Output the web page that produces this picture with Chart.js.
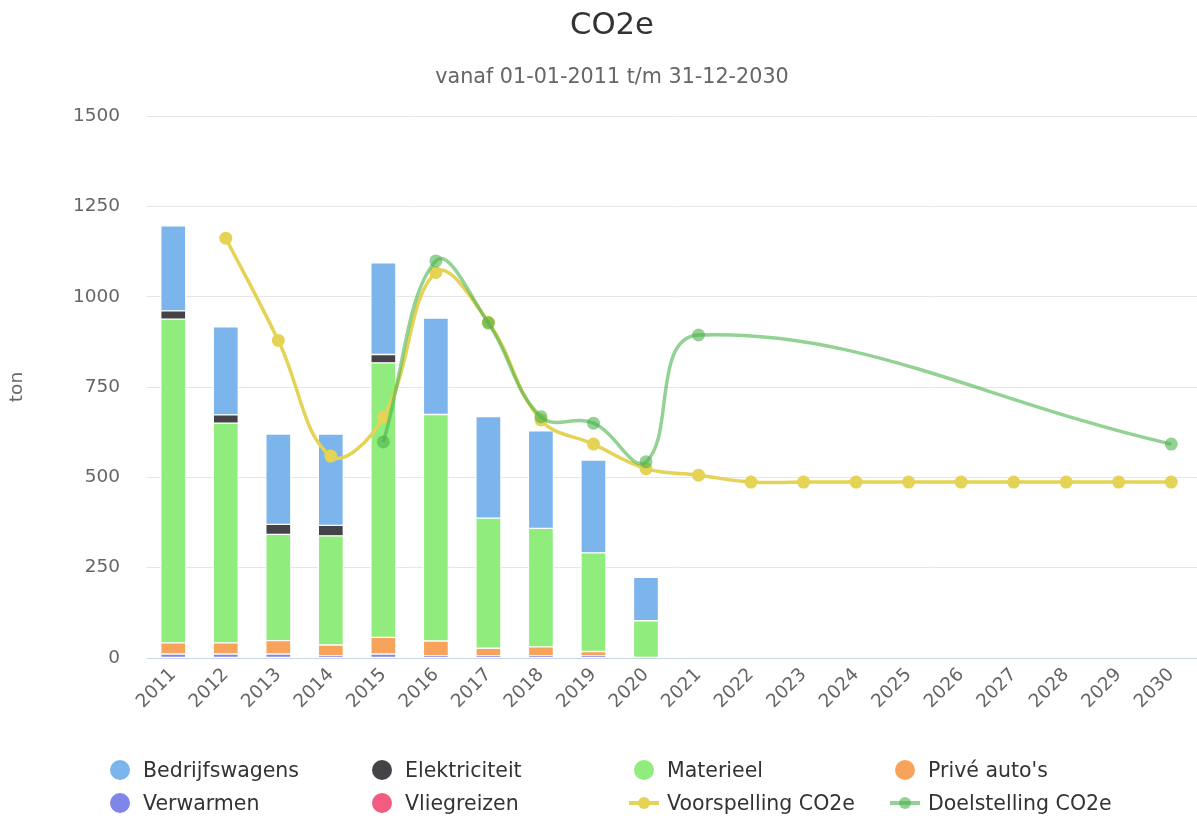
<!DOCTYPE html>
<html>
<head>
<meta charset="utf-8">
<script src="https://cdn.jsdelivr.net/npm/chart.js@4/dist/chart.umd.min.js"></script>
<style>
  body { margin: 0; background: #fff; overflow: hidden; }
  #wrap { position: relative; width: 1197px; height: 818px; overflow: hidden; }
  #legend { position: absolute; left: 0; top: 0; width: 1197px; height: 818px; pointer-events: none;
            font-family: "DejaVu Sans", sans-serif; font-size: 20.5px; color: #333; }
  .item { position: absolute; white-space: nowrap; transform: translateY(-50%); line-height: 24px; }
  .dot { position: absolute; width: 20px; height: 20px; border-radius: 50%; top: 2px; }
  .ln { position: absolute; width: 30px; height: 4px; top: 10px; }
  .ln i { position: absolute; left: 9px; top: -4px; width: 12px; height: 12px; border-radius: 50%; }
</style>
</head>
<body>
<div id="wrap">
  <!-- canvas is 7px wider than the page: Chart.js keeps a small right gap for the last rotated label -->
  <canvas id="co2-chart" width="1204" height="818"></canvas>
  <div id="legend"></div>
</div>
<script>
var years = ['2011','2012','2013','2014','2015','2016','2017','2018','2019','2020',
             '2021','2022','2023','2024','2025','2026','2027','2028','2029','2030'];

// stacked bars (ton)
var bedrijfswagens = [235, 244, 250, 253, 254, 267, 281, 270, 257, 120, null, null, null, null, null, null, null, null, null, null];
var elektriciteit  = [23, 23, 28, 29, 23, 0, 0, 0, 0, 0, null, null, null, null, null, null, null, null, null, null];
var materieel      = [896, 608, 294, 302, 760, 627, 360, 328, 273, 103, null, null, null, null, null, null, null, null, null, null];
var priveAutos     = [31, 31, 37, 30, 46, 41, 21, 25, 12, 0, null, null, null, null, null, null, null, null, null, null];
var verwarmen      = [11, 11, 11, 6, 11, 6, 6, 6, 6, 0, null, null, null, null, null, null, null, null, null, null];
var vliegreizen    = [0, 0, 0, 0, 0, 0, 0, 0, 0, 0, null, null, null, null, null, null, null, null, null, null];

// lines
var voorspelling = [null, 1162, 879, 559, 667, 1067, 929, 659, 592, 524, 506, 487, 487, 487, 487, 487, 487, 487, 487, 487];
var doelstelling = [null, null, null, null, 598, 1099, 927, 668, 650, 543, 894, null, null, null, null, null, null, null, null, 592];

var yTicks = [0, 250, 500, 750, 1000, 1250, 1500];

var font = 'DejaVu Sans';
var doelColor = 'rgba(76, 178, 76, 0.6)';

function bar(label, data, color) {
    return {
        type: 'bar', label: label, data: data, stack: 'co2', order: 2,
        backgroundColor: color, borderColor: '#ffffff', borderWidth: 1, borderSkipped: false,
        barThickness: 25
    };
}

var datasets = [
    bar('Vliegreizen', vliegreizen, '#f15c80'),
    bar('Verwarmen', verwarmen, '#8085e9'),
    bar("Privé auto's", priveAutos, '#f7a35c'),
    bar('Materieel', materieel, '#90ed7d'),
    bar('Elektriciteit', elektriciteit, '#434348'),
    bar('Bedrijfswagens', bedrijfswagens, '#7cb5ec'),
    {
        type: 'line', label: 'Voorspelling CO2e', data: voorspelling, stack: 'voorspelling', order: 1,
        borderColor: '#e4d354', backgroundColor: '#e4d354', borderWidth: 3.5,
        pointRadius: 6.5, pointBorderWidth: 0, tension: 0.4, spanGaps: true, fill: false
    },
    {
        type: 'line', label: 'Doelstelling CO2e', data: doelstelling, stack: 'doel', order: 0,
        borderColor: doelColor, backgroundColor: doelColor, borderWidth: 3.5,
        pointRadius: 6.5, pointBorderWidth: 0, tension: 0.4, spanGaps: true, fill: false
    }
];

var chart = new Chart(document.getElementById('co2-chart'), {
    data: { labels: years, datasets: datasets },
    options: {
        responsive: false,
        animation: false,
        devicePixelRatio: 1,
        // title in the original is centred a bit right of the page middle
        layout: { padding: { left: 0, right: -20, top: 0, bottom: 0 } },
        plugins: {
            legend: { display: false },
            tooltip: { enabled: false },
            title: {
                display: true, text: 'CO2e', color: '#333333',
                font: { family: font, size: 30.7, weight: 'normal' },
                padding: { top: 8, bottom: 0 }
            },
            subtitle: {
                display: true, text: 'vanaf 01-01-2011 t/m 31-12-2030', color: '#666666',
                font: { family: font, size: 20.7, weight: 'normal' },
                padding: { top: 20, bottom: 26.4 }
            }
        },
        scales: {
            x: {
                stacked: true,
                grid: { display: false, drawTicks: false },
                border: { color: '#ccd6eb', width: 1 },
                ticks: {
                    color: '#666666', font: { family: font, size: 18.5 },
                    maxRotation: 45, minRotation: 45, autoSkip: false, padding: 6
                },
                afterFit: function(scale) { scale.height = 160; }
            },
            y: {
                stacked: true, min: 0, max: 1500,
                grid: { color: '#e6e6e6', drawTicks: false },
                border: { display: false },
                afterBuildTicks: function(scale) {
                    scale.ticks = yTicks.map(function(v) { return { value: v }; });
                },
                ticks: {
                    color: '#666666', font: { family: font, size: 18.5 }, padding: 27,
                    callback: function(v) { return String(v); }
                },
                title: {
                    display: true, text: 'ton', color: '#666666',
                    font: { family: font, size: 18.5 }, padding: { top: 6, bottom: 0 }
                },
                afterFit: function(scale) { scale.width = 147; }
            }
        }
    }
});

// HTML legend, 4 columns like the original
var legendOrder = ['Bedrijfswagens', 'Elektriciteit', 'Materieel', "Privé auto's",
                   'Verwarmen', 'Vliegreizen', 'Voorspelling CO2e', 'Doelstelling CO2e'];
var colX = [110, 372, 634, 895];
var rowY = [770, 803];
var legend = document.getElementById('legend');
legendOrder.forEach(function(name, i) {
    var ds = datasets.filter(function(d) { return d.label === name; })[0];
    var item = document.createElement('div');
    item.className = 'item';
    item.style.left = colX[i % 4] + 'px';
    item.style.top = rowY[Math.floor(i / 4)] + 'px';
    item.style.paddingLeft = '33px';
    var sym;
    if (ds.type === 'line') {
        sym = document.createElement('span');
        sym.className = 'ln';
        sym.style.left = '-5px';
        sym.style.background = ds.borderColor;
        var d = document.createElement('i');
        d.style.background = ds.backgroundColor;
        sym.appendChild(d);
    } else {
        sym = document.createElement('span');
        sym.className = 'dot';
        sym.style.left = '0px';
        sym.style.background = ds.backgroundColor;
    }
    item.appendChild(sym);
    item.appendChild(document.createTextNode(ds.label));
    legend.appendChild(item);
});
</script>
</body>
</html>
